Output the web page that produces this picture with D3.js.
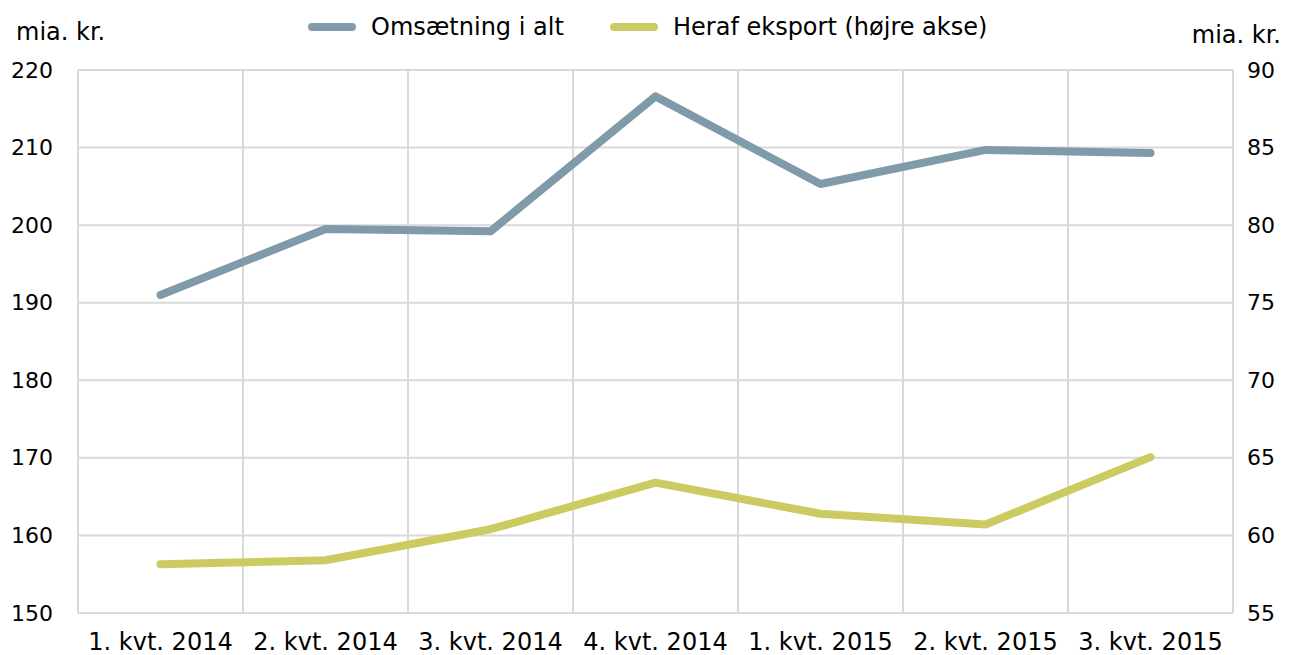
<!DOCTYPE html>
<html>
<head>
<meta charset="utf-8">
<script src="https://cdn.jsdelivr.net/npm/d3@7"></script>
<style>
  body { margin: 0; background: #fff; }
  text { font-family: "DejaVu Sans", Verdana, sans-serif; fill: #000; }
</style>
</head>
<body>
<div id="chart"></div>
<script>
// Data
var quarters = ["1. kvt. 2014", "2. kvt. 2014", "3. kvt. 2014", "4. kvt. 2014", "1. kvt. 2015", "2. kvt. 2015", "3. kvt. 2015"];
var omsaetning = [191.0, 199.5, 199.2, 216.6, 205.3, 209.7, 209.3];
var eksport = [58.15, 58.4, 60.4, 63.4, 61.4, 60.7, 65.05];
var leftTicks = [150, 160, 170, 180, 190, 200, 210, 220];
var rightTicks = [55, 60, 65, 70, 75, 80, 85, 90];
var seriesNames = ["Omsætning i alt", "Heraf eksport (højre akse)"];
var seriesColors = ["#7f9aa8", "#cbcb62"];

var svgWidth = 1290;
var svgHeight = 655;
var margin = { top: 70, right: 57, bottom: 42, left: 78 };
var width = svgWidth - margin.left - margin.right;
var height = svgHeight - margin.top - margin.bottom;

var svg = d3.select("#chart")
  .append("svg")
  .attr("width", svgWidth)
  .attr("height", svgHeight);

var chartGroup = svg.append("g")
  .attr("transform", `translate(${margin.left}, ${margin.top})`);

// Scales
var xScale = d3.scaleBand().domain(quarters).range([0, width]);
var yLeft = d3.scaleLinear().domain([150, 220]).range([height, 0]);
var yRight = d3.scaleLinear().domain([55, 90]).range([height, 0]);

// Grid
chartGroup.append("g")
  .selectAll("line")
  .data(leftTicks)
  .enter()
  .append("line")
  .attr("x1", 0).attr("x2", width)
  .attr("y1", d => yLeft(d)).attr("y2", d => yLeft(d))
  .attr("stroke", "#d9d9d9")
  .attr("stroke-width", 2);

var bounds = quarters.map(q => xScale(q)).concat([width]);
chartGroup.append("g")
  .selectAll("line")
  .data(bounds)
  .enter()
  .append("line")
  .attr("x1", d => d).attr("x2", d => d)
  .attr("y1", 0).attr("y2", height)
  .attr("stroke", "#d9d9d9")
  .attr("stroke-width", 2);

// Axes
var leftAxis = d3.axisLeft(yLeft).tickValues(leftTicks).tickSize(0).tickPadding(25);
var rightAxis = d3.axisRight(yRight).tickValues(rightTicks).tickSize(0).tickPadding(14);
var bottomAxis = d3.axisBottom(xScale).tickSize(0).tickPadding(20);

chartGroup.append("g").call(leftAxis)
  .call(g => g.select(".domain").remove())
  .selectAll("text").attr("font-size", "22px").attr("font-family", null);

chartGroup.append("g")
  .attr("transform", `translate(${width}, 0)`)
  .call(rightAxis)
  .call(g => g.select(".domain").remove())
  .selectAll("text").attr("font-size", "22px").attr("font-family", null);

chartGroup.append("g")
  .attr("transform", `translate(0, ${height})`)
  .call(bottomAxis)
  .call(g => g.select(".domain").remove())
  .selectAll("text").attr("font-size", "24px").attr("font-family", null);

// Lines
var lineLeft = d3.line()
  .x((d, i) => xScale(quarters[i]) + xScale.bandwidth() / 2)
  .y(d => yLeft(d));
var lineRight = d3.line()
  .x((d, i) => xScale(quarters[i]) + xScale.bandwidth() / 2)
  .y(d => yRight(d));

chartGroup.append("path")
  .datum(omsaetning)
  .attr("d", lineLeft)
  .attr("fill", "none")
  .attr("stroke", seriesColors[0])
  .attr("stroke-width", 8)
  .attr("stroke-linecap", "round")
  .attr("stroke-linejoin", "round");

chartGroup.append("path")
  .datum(eksport)
  .attr("d", lineRight)
  .attr("fill", "none")
  .attr("stroke", seriesColors[1])
  .attr("stroke-width", 8)
  .attr("stroke-linecap", "round")
  .attr("stroke-linejoin", "round");

// Unit labels
svg.append("text").attr("x", 16).attr("y", 40).attr("font-size", "24px").text("mia. kr.");
svg.append("text").attr("x", 1281).attr("y", 43).attr("text-anchor", "end").attr("font-size", "24px").text("mia. kr.");

// Legend
var legendX = [312, 614];
seriesNames.forEach(function (name, i) {
  svg.append("line")
    .attr("x1", legendX[i]).attr("x2", legendX[i] + 40)
    .attr("y1", 27).attr("y2", 27)
    .attr("stroke", seriesColors[i])
    .attr("stroke-width", 8)
    .attr("stroke-linecap", "round");
  svg.append("text")
    .attr("x", legendX[i] + 59)
    .attr("y", 35)
    .attr("font-size", "24px")
    .text(name);
});
</script>
</body>
</html>
